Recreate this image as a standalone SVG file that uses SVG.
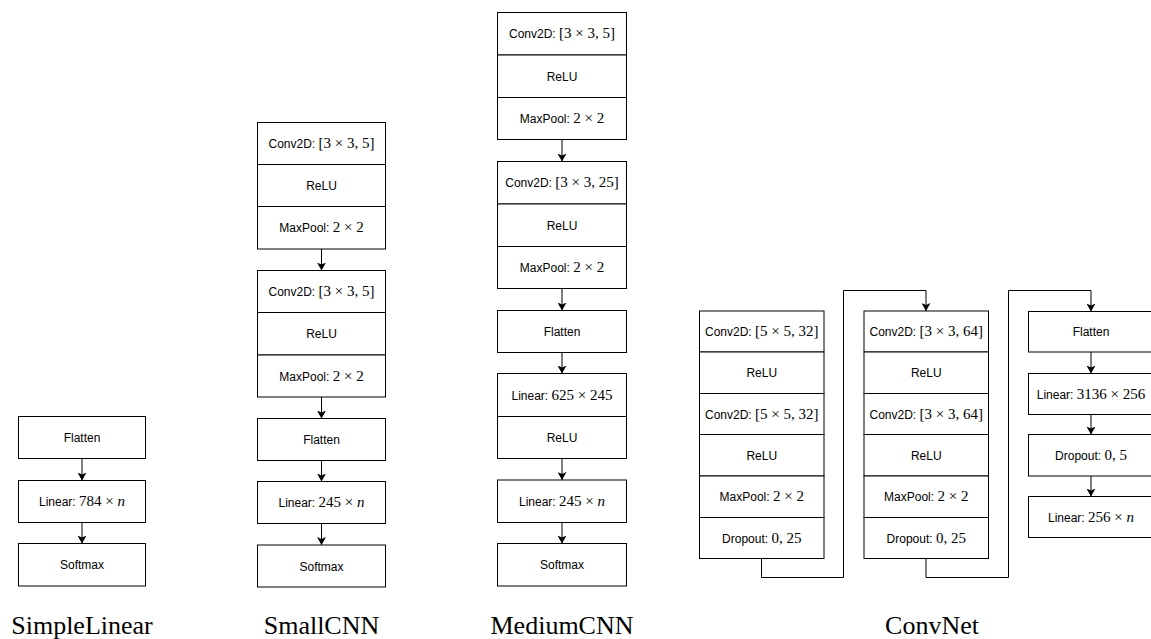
<svg xmlns="http://www.w3.org/2000/svg" width="1151" height="639" viewBox="0 0 1151 639">
<style>
.box{fill:#fff;stroke:#000;stroke-width:1}
.t{font-family:"Liberation Sans",Arial,sans-serif;font-size:12px;text-anchor:middle;fill:#000}
.m{font-family:"Liberation Serif","Times New Roman",serif;font-size:15px}
.i{font-style:italic}
.lbl{font-family:"Liberation Serif","Times New Roman",serif;font-size:26px;text-anchor:middle;fill:#000}
.c{fill:none;stroke:#000;stroke-width:1}
</style>
<defs>
<marker id="ah" markerUnits="userSpaceOnUse" markerWidth="8" markerHeight="9" viewBox="0 0 8 9" refX="8" refY="4.5" orient="auto">
<path d="M0,0 L8,4.5 L0,9 L2,4.5 z" fill="#000"/>
</marker>
</defs>

<g id="simplelinear">
<g id="sl-flatten"><rect class="box" x="18.5" y="416.5" width="127" height="42"/><text class="t" x="82" y="442">Flatten</text></g>
<g id="sl-linear"><rect class="box" x="18.5" y="480.5" width="127" height="42"/><text class="t" x="82" y="506">Linear: <tspan class="m">784 × </tspan><tspan class="m i">n</tspan></text></g>
<g id="sl-softmax"><rect class="box" x="18.5" y="543.5" width="127" height="42.5"/><text class="t" x="82" y="569">Softmax</text></g>
<text class="lbl" x="82" y="634">SimpleLinear</text>
</g>

<g id="smallcnn">
<g id="sc-block1">
<rect class="box" x="257.5" y="122.5" width="128" height="42"/><text class="t" x="321.5" y="148">Conv2D: <tspan class="m">[3 × 3, 5]</tspan></text>
<rect class="box" x="257.5" y="164.5" width="128" height="42"/><text class="t" x="321.5" y="190">ReLU</text>
<rect class="box" x="257.5" y="206.5" width="128" height="42.5"/><text class="t" x="321.5" y="232">MaxPool: <tspan class="m">2 × 2</tspan></text>
</g>
<g id="sc-block2">
<rect class="box" x="257.5" y="270.5" width="128" height="42"/><text class="t" x="321.5" y="296">Conv2D: <tspan class="m">[3 × 3, 5]</tspan></text>
<rect class="box" x="257.5" y="312.5" width="128" height="42.5"/><text class="t" x="321.5" y="338">ReLU</text>
<rect class="box" x="257.5" y="355" width="128" height="42"/><text class="t" x="321.5" y="380.5">MaxPool: <tspan class="m">2 × 2</tspan></text>
</g>
<g id="sc-flatten"><rect class="box" x="257.5" y="418.5" width="128" height="42"/><text class="t" x="321.5" y="444">Flatten</text></g>
<g id="sc-linear"><rect class="box" x="257.5" y="481.5" width="128" height="42"/><text class="t" x="321.5" y="507">Linear: <tspan class="m">245 × </tspan><tspan class="m i">n</tspan></text></g>
<g id="sc-softmax"><rect class="box" x="257.5" y="545" width="128" height="42"/><text class="t" x="321.5" y="570.5">Softmax</text></g>
<text class="lbl" x="321.5" y="634">SmallCNN</text>
</g>

<g id="mediumcnn">
<g id="mc-block1">
<rect class="box" x="497.5" y="12.5" width="129" height="42.5"/><text class="t" x="562" y="38">Conv2D: <tspan class="m">[3 × 3, 5]</tspan></text>
<rect class="box" x="497.5" y="55" width="129" height="42.5"/><text class="t" x="562" y="80.5">ReLU</text>
<rect class="box" x="497.5" y="97.5" width="129" height="42"/><text class="t" x="562" y="123">MaxPool: <tspan class="m">2 × 2</tspan></text>
</g>
<g id="mc-block2">
<rect class="box" x="497.5" y="161.5" width="129" height="42.5"/><text class="t" x="562" y="187">Conv2D: <tspan class="m">[3 × 3, 25]</tspan></text>
<rect class="box" x="497.5" y="204" width="129" height="42.5"/><text class="t" x="562" y="229.5">ReLU</text>
<rect class="box" x="497.5" y="246.5" width="129" height="42"/><text class="t" x="562" y="272">MaxPool: <tspan class="m">2 × 2</tspan></text>
</g>
<g id="mc-flatten"><rect class="box" x="497.5" y="310.5" width="129" height="42"/><text class="t" x="562" y="336">Flatten</text></g>
<g id="mc-dense">
<rect class="box" x="497.5" y="373.5" width="129" height="43"/><text class="t" x="562" y="399.5">Linear: <tspan class="m">625 × 245</tspan></text>
<rect class="box" x="497.5" y="416.5" width="129" height="42"/><text class="t" x="562" y="442">ReLU</text>
</g>
<g id="mc-linear"><rect class="box" x="497.5" y="480" width="129" height="42.5"/><text class="t" x="562" y="505.5">Linear: <tspan class="m">245 × </tspan><tspan class="m i">n</tspan></text></g>
<g id="mc-softmax"><rect class="box" x="497.5" y="543.5" width="129" height="42.5"/><text class="t" x="562" y="569">Softmax</text></g>
<text class="lbl" x="562" y="634">MediumCNN</text>
</g>

<g id="convnet">
<g id="cn-block1">
<rect class="box" x="699.5" y="311" width="124.5" height="41"/><text class="t" x="761.75" y="336">Conv2D: <tspan class="m">[5 × 5, 32]</tspan></text>
<rect class="box" x="699.5" y="352" width="124.5" height="41.5"/><text class="t" x="761.75" y="377">ReLU</text>
<rect class="box" x="699.5" y="393.5" width="124.5" height="41"/><text class="t" x="761.75" y="418.5">Conv2D: <tspan class="m">[5 × 5, 32]</tspan></text>
<rect class="box" x="699.5" y="434.5" width="124.5" height="41.5"/><text class="t" x="761.75" y="459.5">ReLU</text>
<rect class="box" x="699.5" y="476" width="124.5" height="41.5"/><text class="t" x="761.75" y="501">MaxPool: <tspan class="m">2 × 2</tspan></text>
<rect class="box" x="699.5" y="517.5" width="124.5" height="41"/><text class="t" x="761.75" y="542.5">Dropout: <tspan class="m">0, 25</tspan></text>
</g>
<g id="cn-block2">
<rect class="box" x="864" y="311" width="124.5" height="41"/><text class="t" x="926.25" y="336">Conv2D: <tspan class="m">[3 × 3, 64]</tspan></text>
<rect class="box" x="864" y="352" width="124.5" height="41.5"/><text class="t" x="926.25" y="377">ReLU</text>
<rect class="box" x="864" y="393.5" width="124.5" height="41"/><text class="t" x="926.25" y="418.5">Conv2D: <tspan class="m">[3 × 3, 64]</tspan></text>
<rect class="box" x="864" y="434.5" width="124.5" height="41.5"/><text class="t" x="926.25" y="459.5">ReLU</text>
<rect class="box" x="864" y="476" width="124.5" height="41.5"/><text class="t" x="926.25" y="501">MaxPool: <tspan class="m">2 × 2</tspan></text>
<rect class="box" x="864" y="517.5" width="124.5" height="41"/><text class="t" x="926.25" y="542.5">Dropout: <tspan class="m">0, 25</tspan></text>
</g>
<g id="cn-flatten"><rect class="box" x="1028.5" y="311.5" width="125" height="40.5"/><text class="t" x="1091" y="336">Flatten</text></g>
<g id="cn-linear1"><rect class="box" x="1028.5" y="373.5" width="125" height="41"/><text class="t" x="1091" y="398.5">Linear: <tspan class="m">3136 × 256</tspan></text></g>
<g id="cn-dropout"><rect class="box" x="1028.5" y="434.5" width="125" height="41.5"/><text class="t" x="1091" y="459.5">Dropout: <tspan class="m">0, 5</tspan></text></g>
<g id="cn-linear2"><rect class="box" x="1028.5" y="496.5" width="125" height="41"/><text class="t" x="1091" y="521.5">Linear: <tspan class="m">256 × </tspan><tspan class="m i">n</tspan></text></g>
<text class="lbl" x="932" y="634">ConvNet</text>
</g>

<g id="connectors">
<line class="c" x1="82" y1="458.5" x2="82" y2="480.5" marker-end="url(#ah)"/>
<line class="c" x1="82" y1="522.5" x2="82" y2="543.5" marker-end="url(#ah)"/>
<line class="c" x1="321.5" y1="249" x2="321.5" y2="270.5" marker-end="url(#ah)"/>
<line class="c" x1="321.5" y1="397" x2="321.5" y2="418.5" marker-end="url(#ah)"/>
<line class="c" x1="321.5" y1="460.5" x2="321.5" y2="481.5" marker-end="url(#ah)"/>
<line class="c" x1="321.5" y1="523.5" x2="321.5" y2="545" marker-end="url(#ah)"/>
<line class="c" x1="562" y1="139.5" x2="562" y2="161.5" marker-end="url(#ah)"/>
<line class="c" x1="562" y1="288.5" x2="562" y2="310.5" marker-end="url(#ah)"/>
<line class="c" x1="562" y1="352.5" x2="562" y2="373.5" marker-end="url(#ah)"/>
<line class="c" x1="562" y1="458.5" x2="562" y2="480" marker-end="url(#ah)"/>
<line class="c" x1="562" y1="522.5" x2="562" y2="543.5" marker-end="url(#ah)"/>
<path class="c" d="M761.5,558.5 V577.5 H843.5 V290.5 H926 V311" marker-end="url(#ah)"/>
<path class="c" d="M926,558.5 V577.5 H1008.5 V290.5 H1091 V311.5" marker-end="url(#ah)"/>
<line class="c" x1="1091" y1="352" x2="1091" y2="373.5" marker-end="url(#ah)"/>
<line class="c" x1="1091" y1="414.5" x2="1091" y2="434.5" marker-end="url(#ah)"/>
<line class="c" x1="1091" y1="476" x2="1091" y2="496.5" marker-end="url(#ah)"/>
</g>
</svg>
